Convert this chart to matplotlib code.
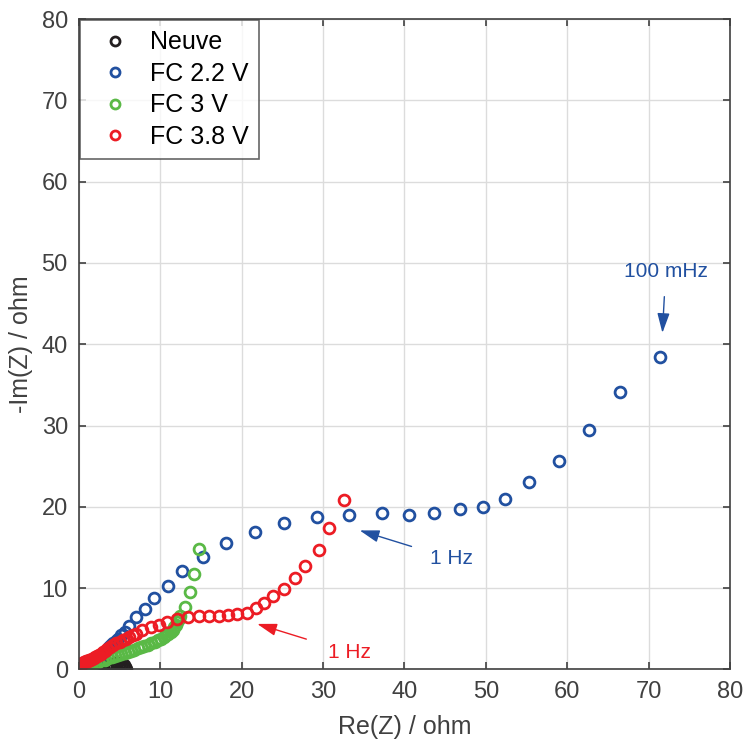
import matplotlib
matplotlib.use("Agg")
import matplotlib.pyplot as plt

plt.rcParams['font.family'] = ['Liberation Sans', 'DejaVu Sans']

# Nyquist data (Re(Z), -Im(Z)) in ohm
neuve_re = [0.4, 0.7, 1.0, 1.4, 1.8, 2.2, 2.6, 3.0, 3.4, 3.8, 4.2, 4.6, 5.0,
            5.3, 5.5, 5.6, 5.7, 5.75]
neuve_im = [0.2, 0.25, 0.3, 0.35, 0.4, 0.45, 0.5, 0.55, 0.6, 0.65, 0.7, 0.75,
            0.75, 0.65, 0.5, 0.35, 0.2, 0.05]

fc22_re = [0.3, 0.45, 0.6, 0.8, 1.0, 1.2, 1.45, 1.7, 1.95, 2.2, 2.45, 2.7, 2.95,
           3.2, 3.45, 3.7, 3.95, 4.2, 4.5, 4.8, 5.2, 5.6, 6.2, 7.0, 8.1, 9.2,
           10.9, 12.7, 15.3, 18.1, 21.6, 25.2, 29.3, 33.2, 37.3, 40.5, 43.6,
           46.8, 49.7, 52.4, 55.3, 59.0, 62.7, 66.5, 71.4]
fc22_im = [0.6, 0.7, 0.8, 0.85, 0.9, 0.95, 1.05, 1.15, 1.3, 1.45, 1.6, 1.8, 2.0,
           2.2, 2.45, 2.7, 2.95, 3.2, 3.5, 3.8, 4.2, 4.6, 5.4, 6.4, 7.45, 8.8,
           10.3, 12.1, 13.8, 15.5, 16.95, 18.0, 18.7, 19.0, 19.2, 19.0, 19.2,
           19.7, 20.0, 21.0, 23.1, 25.7, 29.4, 34.1, 38.45]

fc3_re = [0.4, 0.6, 0.8, 1.0, 1.3, 1.6, 2.0, 2.4, 2.8, 3.2, 3.6, 4.0, 4.4, 4.8,
          5.2, 5.6, 6.0, 6.4, 6.8, 7.2, 7.6, 8.0, 8.5, 8.9, 9.3, 9.7, 10.1,
          10.4, 10.7, 11.0, 11.3, 11.5, 11.7, 11.9, 12.1, 12.25, 12.4, 13.0,
          13.7, 14.1, 14.7]
fc3_im = [0.4, 0.45, 0.5, 0.55, 0.65, 0.75, 0.85, 0.95, 1.1, 1.2, 1.35, 1.5,
          1.6, 1.75, 1.9, 2.0, 2.15, 2.3, 2.45, 2.6, 2.75, 2.9, 3.05, 3.2, 3.4,
          3.6, 3.8, 4.0, 4.2, 4.4, 4.6, 4.9, 5.2, 5.5, 5.8, 6.2, 6.6, 7.7,
          9.55, 11.75, 14.8]

fc38_re = [0.2, 0.25, 0.3, 0.4, 0.5, 0.6, 0.75, 0.9, 1.05, 1.2, 1.4, 1.6, 1.8,
           2.0, 2.2, 2.45, 2.7, 2.95, 3.2, 3.5, 3.8, 4.2, 4.6, 5.0, 5.4, 5.8,
           6.2, 6.6, 7.0, 7.8, 8.8, 9.8, 10.8, 12.0, 13.4, 14.7, 16.0, 17.2,
           18.3, 19.4, 20.6, 21.7, 22.8, 23.9, 25.2, 26.5, 27.8, 29.5, 30.7,
           32.6]
fc38_im = [0.5, 0.6, 0.7, 0.8, 0.85, 0.9, 0.95, 1.0, 1.05, 1.1, 1.2, 1.3, 1.4,
           1.5, 1.65, 1.8, 1.95, 2.1, 2.3, 2.5, 2.7, 2.95, 3.2, 3.4, 3.6, 3.8,
           4.0, 4.2, 4.4, 4.8, 5.2, 5.5, 5.8, 6.2, 6.4, 6.6, 6.6, 6.6, 6.7,
           6.8, 7.0, 7.5, 8.2, 9.0, 9.9, 11.2, 12.7, 14.7, 17.4, 20.8]

labels = ["Neuve", "FC 2.2 V", "FC 3 V", "FC 3.8 V"]
colors = ["#231f20", "#2150a0", "#5ab946", "#ec1c24"]

fig = plt.figure(figsize=(7.45, 7.42), dpi=100)
ax = fig.add_axes([0.106, 0.0978, 0.8738, 0.8765])

series = [(neuve_re, neuve_im), (fc22_re, fc22_im), (fc3_re, fc3_im), (fc38_re, fc38_im)]
for (re, im), lab, col in zip(series, labels, colors):
    ax.plot(re, im, "o", ls="none", mfc="none", mec=col, mew=2.0, ms=7.8,
            label=lab)

ax.set_xlim(0, 80)
ax.set_ylim(0, 80)
ax.set_xticks(range(0, 81, 10))
ax.set_yticks(range(0, 81, 10))
ax.grid(True, color="#dcdcdc", lw=1)
ax.set_axisbelow(True)

grey = "#404040"
for s in ax.spines.values():
    s.set_color(grey)
    s.set_linewidth(1.2)
ax.tick_params(direction="in", top=True, right=True, length=5, width=1.2,
               color=grey, labelcolor=grey, labelsize=17, pad=8)
ax.set_xlabel("Re(Z) / ohm", fontsize=18, color=grey, labelpad=9)
ax.set_ylabel("-Im(Z) / ohm", fontsize=18, color=grey, labelpad=6)

leg = ax.legend(loc="upper left", fontsize=18, frameon=True, fancybox=False,
                edgecolor=grey, borderaxespad=0.05, handlelength=2.0,
                handletextpad=0.4, labelspacing=0.3, borderpad=0.4)
leg.get_frame().set_linewidth(1.2)
for h in leg.legend_handles:
    h.set_markersize(6.5)

arrow_kw = dict(arrowstyle="-|>,head_length=0.8,head_width=0.25", lw=1.0)
ax.annotate("100 mHz", xy=(71.7, 41.4), xytext=(72.1, 48.9), fontsize=15,
            color=colors[1], ha="center", va="center",
            arrowprops=dict(color=colors[1], shrinkA=9, shrinkB=0, **arrow_kw))
ax.annotate("1 Hz", xy=(34.5, 17.1), xytext=(45.8, 13.6), fontsize=15,
            color=colors[1], ha="center", va="center",
            arrowprops=dict(color=colors[1], shrinkA=12, shrinkB=0, **arrow_kw))
ax.annotate("1 Hz", xy=(21.9, 5.6), xytext=(33.2, 2.1), fontsize=15,
            color=colors[3], ha="center", va="center",
            arrowprops=dict(color=colors[3], shrinkA=14, shrinkB=0, **arrow_kw))

fig.savefig("out.png", dpi=100)
